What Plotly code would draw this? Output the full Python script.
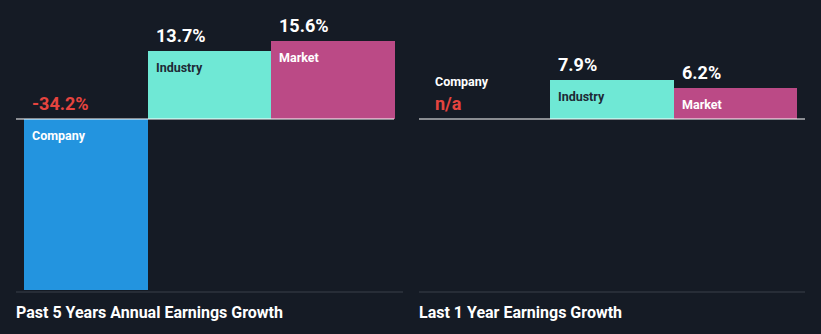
import plotly.graph_objects as go

categories = ["Company", "Industry", "Market"]
past5_values = [-34.2, 13.7, 15.6]
last1_values = [None, 7.9, 6.2]
panel_titles = ["Past 5 Years Annual Earnings Growth", "Last 1 Year Earnings Growth"]

BG = "#151b25"
COLORS = ["#2394df", "#6fe8d5", "#bb4a86"]
INNER_TEXT = ["#ffffff", "#1e2a35", "#ffffff"]
RED = "#e5443f"
W, H = 821, 334

fig = go.Figure()

def add_panel(vals, xaxis):
    xv, yv, cols = [], [], []
    for i, v in enumerate(vals):
        if v is not None:
            xv.append(i); yv.append(v); cols.append(COLORS[i])
    fig.add_trace(go.Bar(x=xv, y=yv, width=1.0, marker=dict(color=cols, line=dict(width=0)),
                         xaxis=xaxis, yaxis="y", showlegend=False, hoverinfo="skip"))

add_panel(past5_values, "x")
add_panel(last1_values, "x2")

font = "Roboto, Arial, sans-serif"
annotations = []
for vals, xref in [(past5_values, "x"), (last1_values, "x2")]:
    for i, v in enumerate(vals):
        if v is None:
            annotations.append(dict(x=i - 0.5, y=0, xref=xref, yref="y", text="<b>n/a</b>",
                                    xanchor="left", yanchor="bottom", xshift=6, yshift=3,
                                    showarrow=False, font=dict(family=font, size=18, color=RED)))
            annotations.append(dict(x=i - 0.5, y=0, xref=xref, yref="y", text="<b>%s</b>" % categories[i],
                                    xanchor="left", yanchor="bottom", xshift=6, yshift=28,
                                    showarrow=False, font=dict(family=font, size=12.5, color="#ffffff")))
            continue
        top = max(v, 0)
        col = RED if v < 0 else "#ffffff"
        annotations.append(dict(x=i - 0.5, y=top, xref=xref, yref="y", text="<b>%.1f%%</b>" % v,
                                xanchor="left", yanchor="bottom", xshift=6, yshift=3,
                                showarrow=False, font=dict(family=font, size=18, color=col)))
        annotations.append(dict(x=i - 0.5, y=top, xref=xref, yref="y", text="<b>%s</b>" % categories[i],
                                xanchor="left", yanchor="top", xshift=6, yshift=-7,
                                showarrow=False, font=dict(family=font, size=12.5, color=INNER_TEXT[i])))

for title, x0 in zip(panel_titles, [16, 419]):
    annotations.append(dict(x=x0 / W, y=1 - 312 / H, xref="paper", yref="paper", text="<b>%s</b>" % title,
                            xanchor="left", yanchor="middle", xshift=-2, showarrow=False,
                            font=dict(family=font, size=16, color="#ffffff")))

shapes = [
    dict(type="line", xref="paper", yref="y", x0=16 / W, x1=394 / W, y0=0, y1=0,
         line=dict(color="#ffffff", width=1.2)),
    dict(type="line", xref="paper", yref="y", x0=419 / W, x1=805 / W, y0=0, y1=0,
         line=dict(color="#ffffff", width=1.2)),
    dict(type="line", xref="paper", yref="paper", x0=16 / W, x1=403 / W, y0=1 - 292 / H, y1=1 - 292 / H,
         line=dict(color="#3a404a", width=1)),
    dict(type="line", xref="paper", yref="paper", x0=419 / W, x1=805 / W, y0=1 - 292 / H, y1=1 - 292 / H,
         line=dict(color="#3a404a", width=1)),
]

scale = 5.0
y_top = 119 / scale
y_bot = -(H - 119) / scale

fig.update_layout(
    width=W, height=H, margin=dict(l=0, r=0, t=0, b=0),
    paper_bgcolor=BG, plot_bgcolor=BG, bargap=0,
    xaxis=dict(domain=[24 / W, 395 / W], range=[-0.5, 2.5], visible=False, fixedrange=True),
    xaxis2=dict(domain=[427 / W, 797 / W], range=[-0.5, 2.5], visible=False, fixedrange=True, anchor="y"),
    yaxis=dict(domain=[0, 1], range=[y_bot, y_top], visible=False, fixedrange=True),
    annotations=annotations, shapes=shapes,
)

fig.write_html("out.html")
